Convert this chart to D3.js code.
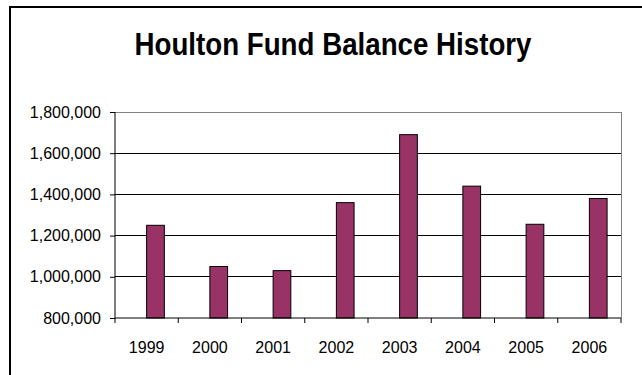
<!DOCTYPE html>
<html><head><meta charset="utf-8">
<script src="https://cdn.jsdelivr.net/npm/d3@7"></script>
<style>html,body{margin:0;padding:0;background:#fff;}svg{display:block;}</style>
</head><body><div id="chart"></div>
<script>
const title = "Houlton Fund Balance History";
const years = ["1999","2000","2001","2002","2003","2004","2005","2006"];
const balances = [1250000, 1050000, 1030000, 1360000, 1690000, 1440000, 1255000, 1380000];
const yTicks = [800000, 1000000, 1200000, 1400000, 1600000, 1800000];

const W = 642, H = 375;
const svg = d3.select("#chart").append("svg").attr("width", W).attr("height", H);
svg.append("rect").attr("width", W).attr("height", H).attr("fill", "#fff");

// outer chart border (extends past the canvas on right/bottom)
svg.append("rect").attr("x", 10).attr("y", 7).attr("width", 700).attr("height", 500)
  .attr("fill", "none").attr("stroke", "#000").attr("stroke-width", 2);

svg.append("text").attr("x", 333).attr("y", 55).attr("text-anchor", "middle")
  .attr("font-family", "Liberation Sans, Arial, sans-serif").attr("font-weight", "bold")
  .attr("font-size", 32).attr("textLength", 397).attr("lengthAdjust", "spacingAndGlyphs")
  .attr("fill", "#000").text(title);

const L = 115, R = 621, T = 112, B = 318;
const x = d3.scaleBand().domain(years).range([L, R]).padding(0);
const y = d3.scaleLinear().domain([800000, 1800000]).range([B, T]);

// gridlines
svg.append("g").selectAll("line").data(yTicks.filter(d => d > 800000 && d < 1800000)).join("line")
  .attr("x1", L).attr("x2", R).attr("y1", d => y(d)).attr("y2", d => y(d))
  .attr("stroke", "#000").attr("stroke-width", 1).attr("shape-rendering", "crispEdges");

// plot area top/right border (gray)
svg.append("path").attr("d", `M${L},${T}H${R}V${B}`).attr("fill", "none")
  .attr("stroke", "#808080").attr("stroke-width", 1).attr("shape-rendering", "crispEdges");

// bars: start at band centre, width ~0.28 band
const bw = x.bandwidth() * 0.28;
svg.append("g").selectAll("rect").data(years).join("rect")
  .attr("x", d => x(d) + x.bandwidth() / 2)
  .attr("y", (d, i) => y(balances[i]))
  .attr("width", bw)
  .attr("height", (d, i) => y(800000) - y(balances[i]))
  .attr("fill", "#993366").attr("stroke", "#000").attr("stroke-width", 1);

// y axis
const fmt = d3.format(",");
const yAxis = d3.axisLeft(y).tickValues(yTicks).tickFormat(fmt).tickSize(5).tickPadding(9);
const gy = svg.append("g").attr("transform", `translate(${L},0)`).call(yAxis);
gy.select(".domain").attr("stroke", "#000").attr("d", `M-0,${T}V${B}`);
gy.selectAll(".tick line").attr("stroke", "#000");
gy.selectAll("text").attr("font-family", "Liberation Sans, Arial, sans-serif")
  .attr("font-size", 16).attr("fill", "#000");

// x axis with ticks at band boundaries
const gx = svg.append("g").attr("transform", `translate(0,${B})`);
gx.append("line").attr("x1", L).attr("x2", R).attr("y1", 0).attr("y2", 0).attr("stroke", "#000");
const bounds = years.map(d => x(d)).concat([R]);
gx.selectAll("line.t").data(bounds).join("line").attr("class", "t")
  .attr("x1", d => d).attr("x2", d => d).attr("y1", 0).attr("y2", 5).attr("stroke", "#000");
gx.selectAll("text").data(years).join("text")
  .attr("x", d => x(d) + x.bandwidth() / 2).attr("y", 35).attr("text-anchor", "middle")
  .attr("font-family", "Liberation Sans, Arial, sans-serif").attr("font-size", 16)
  .attr("fill", "#000").text(d => d);
</script></body></html>
